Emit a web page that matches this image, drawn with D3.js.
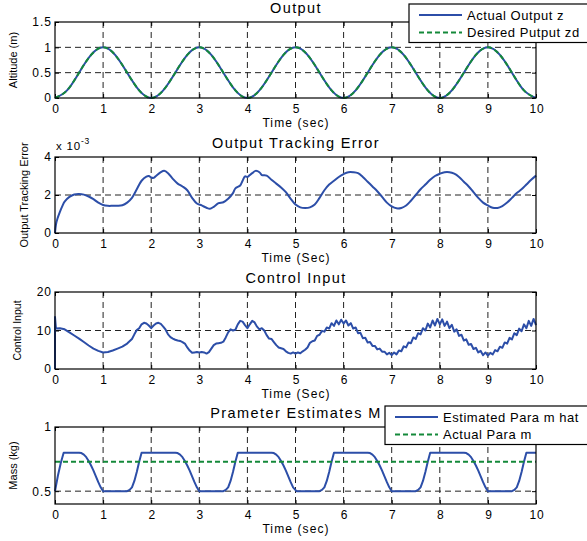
<!DOCTYPE html>
<html>
<head>
<meta charset="utf-8">
<title>Output</title>
<script src="https://d3js.org/d3.v7.min.js"></script>
<style>
  body { margin: 0; background: #fff; }
  svg text { font-family: "Liberation Sans", Arial, sans-serif; fill: #000; }
</style>
</head>
<body>
<div id="chart"></div>
<script>
// ---- data ----
const timeTicks = [0, 1, 2, 3, 4, 5, 6, 7, 8, 9, 10];

// altitude z and desired zd (m), sampled every 0.25 s
const outputTime = [0,0.25,0.5,0.75,1,1.25,1.5,1.75,2,2.25,2.5,2.75,3,3.25,3.5,3.75,4,4.25,4.5,4.75,5,
  5.25,5.5,5.75,6,6.25,6.5,6.75,7,7.25,7.5,7.75,8,8.25,8.5,8.75,9,9.25,9.5,9.75,10];
const actualZ = [0,0.15,0.5,0.85,1,0.85,0.5,0.15,0,0.15,0.5,0.85,1,0.85,0.5,0.15,0,0.15,0.5,0.85,1,
  0.85,0.5,0.15,0,0.15,0.5,0.85,1,0.85,0.5,0.15,0,0.15,0.5,0.85,1,0.85,0.5,0.15,0];
const desiredZd = [0,0.15,0.5,0.85,1,0.85,0.5,0.15,0,0.15,0.5,0.85,1,0.85,0.5,0.15,0,0.15,0.5,0.85,1,
  0.85,0.5,0.15,0,0.15,0.5,0.85,1,0.85,0.5,0.15,0,0.15,0.5,0.85,1,0.85,0.5,0.15,0];

// tracking error, in units of 1e-3
const trackingError = [[0,0],[0.02,0.45],[0.05,0.75],[0.1,1.1],[0.15,1.4],[0.2,1.65],[0.3,1.9],[0.4,2.03],
  [0.5,2.05],[0.6,2.02],[0.7,1.92],[0.8,1.78],[0.9,1.6],[1.0,1.47],[1.1,1.43],[1.2,1.43],[1.3,1.43],
  [1.4,1.46],[1.5,1.6],[1.6,1.85],[1.7,2.3],[1.8,2.75],[1.9,2.97],[1.95,3.0],[2.0,2.92],[2.05,2.9],
  [2.1,3.0],[2.2,3.2],[2.27,3.27],[2.35,3.15],[2.45,2.85],[2.55,2.6],[2.65,2.45],[2.75,2.25],[2.85,1.85],
  [2.95,1.55],[3.05,1.45],[3.15,1.33],[3.22,1.28],[3.3,1.38],[3.4,1.57],[3.5,1.62],[3.6,1.8],[3.7,2.1],
  [3.75,2.35],[3.85,2.5],[3.9,2.75],[3.95,2.98],[4.0,2.95],[4.05,3.05],[4.1,3.15],[4.17,3.27],[4.25,3.2],
  [4.3,3.05],[4.4,3.02],[4.5,2.8],[4.6,2.6],[4.7,2.4],[4.8,2.15],[4.9,1.8],[5.0,1.5],[5.1,1.35],[5.2,1.32],
  [5.3,1.35],[5.4,1.5],[5.5,1.85],[5.6,2.25],[5.7,2.55],[5.8,2.75],[5.9,2.95],[6.0,3.1],[6.1,3.2],[6.2,3.2],
  [6.3,3.15],[6.4,2.95],[6.5,2.7],[6.6,2.45],[6.7,2.2],[6.8,1.9],[6.9,1.6],[7.0,1.4],[7.1,1.3],[7.2,1.32],
  [7.3,1.45],[7.4,1.7],[7.5,2.0],[7.6,2.3],[7.7,2.55],[7.8,2.8],[7.9,3.0],[8.0,3.12],[8.1,3.2],[8.2,3.2],
  [8.3,3.12],[8.4,2.95],[8.5,2.7],[8.6,2.45],[8.7,2.15],[8.8,1.85],[8.9,1.6],[9.0,1.45],[9.1,1.33],
  [9.2,1.32],[9.3,1.42],[9.4,1.6],[9.5,1.85],[9.6,2.1],[9.7,2.3],[9.8,2.55],[9.9,2.8],[10.0,3.02]];

// control input u
const controlInput = [[0,0],[0,13.5],[0.02,10.5],[0.1,10.6],[0.2,10.3],[0.3,9.5],[0.4,8.7],[0.5,7.9],
  [0.6,7.0],[0.7,6.1],[0.8,5.3],[0.9,4.7],[1.0,4.3],[1.1,4.4],[1.2,4.8],[1.3,5.3],[1.4,5.8],[1.5,6.6],
  [1.6,7.8],[1.65,9.0],[1.7,10.1],[1.75,10.6],[1.8,11.6],[1.85,12.0],[1.9,11.8],[1.95,11.3],[2.0,10.6],
  [2.05,11.3],[2.1,11.8],[2.15,12.0],[2.2,11.7],[2.25,11.0],[2.3,10.2],[2.35,9.0],[2.4,8.3],[2.45,7.9],
  [2.5,7.6],[2.55,7.4],[2.6,7.3],[2.65,7.0],[2.7,6.6],[2.75,5.6],[2.8,4.8],[2.85,4.2],[2.9,4.3],[2.95,4.4],
  [3.0,4.3],[3.05,4.4],[3.1,4.3],[3.15,4.0],[3.2,4.4],[3.25,5.3],[3.3,6.2],[3.35,6.6],[3.4,6.7],[3.45,6.8],
  [3.5,7.1],[3.55,8.2],[3.6,9.5],[3.65,10.3],[3.7,10.0],[3.75,10.2],[3.8,11.6],[3.85,12.5],[3.9,12.3],
  [3.95,11.4],[4.0,10.6],[4.05,11.6],[4.1,12.5],[4.15,12.1],[4.2,11.0],[4.25,10.3],[4.3,10.6],[4.35,10.0],
  [4.4,8.8],[4.45,7.9],[4.5,7.8],[4.55,7.0],[4.6,6.2],[4.65,5.6],[4.7,5.4],[4.75,5.2],[4.8,4.6],[4.85,4.2],
  [4.9,4.0],[4.95,4.3],[5.0,4.0],[5.05,4.3],[5.1,4.1],[5.15,4.6],[5.2,5.0],[5.25,5.6],[5.3,6.8],[5.35,7.2],
  [5.4,7.4],[5.45,8.6],[5.5,8.9],[5.55,9.9],[5.6,9.7],[5.65,10.8],[5.7,10.5],[5.75,11.9],[5.8,11.2],
  [5.85,12.6],[5.9,11.6],[5.95,12.8],[6.0,11.8],[6.05,12.6],[6.1,11.3],[6.15,11.9],[6.2,10.5],[6.25,10.8],
  [6.3,9.3],[6.35,9.4],[6.4,8.0],[6.45,8.1],[6.5,6.9],[6.55,7.0],[6.6,6.0],[6.65,6.0],[6.7,5.1],[6.75,5.3],
  [6.8,4.5],[6.85,4.5],[6.9,3.8],[6.95,4.2],[7.0,3.6],[7.05,4.3],[7.1,3.8],[7.15,4.8],[7.2,4.6],[7.25,5.9],
  [7.3,5.6],[7.35,6.9],[7.4,6.7],[7.45,8.2],[7.5,7.8],[7.55,9.3],[7.6,9.0],[7.65,10.6],[7.7,10.0],
  [7.75,11.8],[7.8,10.8],[7.85,12.6],[7.9,11.3],[7.95,13.0],[8.0,11.6],[8.05,12.9],[8.1,11.2],[8.15,12.3],
  [8.2,10.6],[8.25,11.5],[8.3,9.7],[8.35,10.3],[8.4,8.6],[8.45,8.9],[8.5,7.4],[8.55,7.7],[8.6,6.3],
  [8.65,6.5],[8.7,5.2],[8.75,5.5],[8.8,4.3],[8.85,4.7],[8.9,3.6],[8.95,4.3],[9.0,3.5],[9.05,4.2],[9.1,3.8],
  [9.15,4.9],[9.2,4.6],[9.25,5.8],[9.3,5.5],[9.35,6.9],[9.4,6.6],[9.45,8.1],[9.5,7.7],[9.55,9.3],[9.6,8.8],
  [9.65,10.5],[9.7,9.8],[9.75,11.6],[9.8,10.6],[9.85,12.5],[9.9,11.2],[9.95,13.0],[10.0,11.4]];

// estimated mass m hat (kg)
const massEstimate = [[0,0.5],[0.06,0.62],[0.12,0.72],[0.18,0.8],
  [0.5,0.8],[0.55,0.797],[0.6,0.785],[0.65,0.765],[0.7,0.735],[0.75,0.7],[0.8,0.66],[0.85,0.615],[0.9,0.57],[0.95,0.53],[1.0,0.5],
  [1.5,0.5],[1.55,0.51],[1.6,0.53],[1.65,0.58],[1.7,0.65],[1.75,0.73],[1.8,0.8],
  [2.5,0.8],[2.55,0.797],[2.6,0.785],[2.65,0.765],[2.7,0.735],[2.75,0.7],[2.8,0.66],[2.85,0.615],[2.9,0.57],[2.95,0.53],[3.0,0.5],
  [3.5,0.5],[3.55,0.51],[3.6,0.53],[3.65,0.58],[3.7,0.65],[3.75,0.73],[3.8,0.8],
  [4.5,0.8],[4.55,0.797],[4.6,0.785],[4.65,0.765],[4.7,0.735],[4.75,0.7],[4.8,0.66],[4.85,0.615],[4.9,0.57],[4.95,0.53],[5.02,0.5],
  [5.5,0.5],[5.55,0.51],[5.6,0.53],[5.65,0.58],[5.7,0.65],[5.75,0.73],[5.8,0.8],
  [6.5,0.8],[6.55,0.797],[6.6,0.785],[6.65,0.765],[6.7,0.735],[6.75,0.7],[6.8,0.66],[6.85,0.615],[6.9,0.57],[6.95,0.53],[7.0,0.5],
  [7.5,0.5],[7.55,0.51],[7.6,0.53],[7.65,0.58],[7.7,0.65],[7.75,0.73],[7.8,0.8],
  [8.5,0.8],[8.55,0.797],[8.6,0.785],[8.65,0.765],[8.7,0.735],[8.75,0.7],[8.8,0.66],[8.85,0.615],[8.9,0.57],[8.95,0.53],[9.0,0.5],
  [9.5,0.5],[9.55,0.51],[9.6,0.53],[9.65,0.58],[9.7,0.65],[9.75,0.73],[9.8,0.8],[10.0,0.8]];
const actualMass = [[0,0.73],[10,0.73]];

const blue = "#2c4ea8", green = "#14893a";

const svg = d3.select("#chart").append("svg")
  .attr("width", 587).attr("height", 541);

const x = d3.scaleLinear().domain([0, 10]).range([55, 536]);

// horizontal text; the original runs wide, so add a little letter spacing
function htext(parent, px, py, str, size, anchor, ls) {
  return parent.append("text")
    .attr("x", px).attr("y", py)
    .attr("text-anchor", anchor || "start")
    .attr("font-size", size)
    .style("letter-spacing", (ls || 0) + "px")
    .text(str);
}

function panel(p) {
  const y = d3.scaleLinear().domain(p.domain).range([p.bottom, p.top]);
  const g = svg.append("g");

  // dashed grid
  g.selectAll(".vg").data(timeTicks.slice(1, -1)).enter().append("line")
    .attr("x1", d => x(d)).attr("x2", d => x(d))
    .attr("y1", p.top).attr("y2", p.bottom)
    .attr("stroke", "#222").attr("stroke-width", 1).attr("stroke-dasharray", "6,4");
  g.selectAll(".hg").data(p.grid).enter().append("line")
    .attr("x1", x(0)).attr("x2", x(10))
    .attr("y1", d => y(d)).attr("y2", d => y(d))
    .attr("stroke", "#222").attr("stroke-width", 1).attr("stroke-dasharray", "6,4");

  // axes with inward ticks on all four sides
  g.append("g").attr("transform", "translate(0," + p.bottom + ")")
    .call(d3.axisBottom(x).tickValues(timeTicks).tickSizeInner(-4).tickSizeOuter(0).tickPadding(6))
    .call(a => a.select(".domain").remove())
    .selectAll(".tick text").attr("dx", "0.05em");
  g.append("g").attr("transform", "translate(0," + p.top + ")")
    .call(d3.axisTop(x).tickValues(timeTicks).tickSizeInner(-4).tickSizeOuter(0).tickFormat(""))
    .call(a => a.select(".domain").remove());
  g.append("g").attr("transform", "translate(55,0)")
    .call(d3.axisLeft(y).tickValues(p.ticks).tickSizeInner(-4).tickSizeOuter(0).tickPadding(3).tickFormat(d3.format("")))
    .call(a => a.select(".domain").remove());
  g.append("g").attr("transform", "translate(536,0)")
    .call(d3.axisRight(y).tickValues(p.ticks).tickSizeInner(-4).tickSizeOuter(0).tickFormat(""))
    .call(a => a.select(".domain").remove());
  g.selectAll(".tick text").attr("font-size", 12)
    .style("letter-spacing", "1px")
    .style("font-family", "Liberation Sans, Arial, sans-serif");
  g.selectAll(".tick line").attr("stroke", "#000");

  // series
  p.series.forEach(s => {
    const line = d3.line().x(d => x(d[0])).y(d => y(d[1])).curve(s.curve || d3.curveLinear);
    g.append("path").datum(s.data)
      .attr("d", line).attr("fill", "none")
      .attr("stroke", s.color).attr("stroke-width", 2)
      .attr("stroke-dasharray", s.dash || null)
      .attr("stroke-linejoin", "round");
  });

  // frame
  g.append("rect").attr("x", 55).attr("y", p.top)
    .attr("width", 481).attr("height", p.bottom - p.top)
    .attr("fill", "none").attr("stroke", "#000").attr("stroke-width", 1.2);

  // texts
  htext(svg, 296, p.top - 9, p.title, 14.5, "middle", 1.4);
  htext(svg, 296, p.bottom + 29, p.xlabel, 12, "middle", 1.1);
  svg.append("text")
    .attr("transform", "translate(" + p.ylabelX + "," + ((p.top + p.bottom) / 2) + ") rotate(-90)")
    .attr("text-anchor", "middle").attr("font-size", p.ylabelSize || 11).text(p.ylabel);
  return y;
}

const zipT = (ts, vs) => ts.map((t, i) => [t, vs[i]]);

panel({
  top: 22, bottom: 98, domain: [0, 1.5], ticks: [0, 0.5, 1, 1.5], grid: [0.5, 1],
  title: "Output", xlabel: "Time (sec)", ylabel: "Altitude (m)", ylabelX: 17,
  series: [
    {data: zipT(outputTime, actualZ), color: blue, curve: d3.curveNatural},
    {data: zipT(outputTime, desiredZd), color: green, dash: "5,3", curve: d3.curveNatural}
  ]
});

panel({
  top: 157, bottom: 233, domain: [0, 4], ticks: [0, 2, 4], grid: [2],
  title: "Output Tracking Error", xlabel: "Time (Sec)", ylabel: "Output Tracking Error", ylabelX: 28,
  series: [{data: trackingError, color: blue, curve: d3.curveCatmullRom}]
});

panel({
  top: 292, bottom: 369, domain: [0, 20], ticks: [0, 10, 20], grid: [10],
  title: "Control Input", xlabel: "Time (Sec)", ylabel: "Control Input", ylabelX: 21, ylabelSize: 10.5,
  series: [{data: controlInput, color: blue}]
});

panel({
  top: 427, bottom: 504, domain: [0.4, 1], ticks: [0.5, 1], grid: [0.5],
  title: "Prameter Estimates M", xlabel: "Time (sec)", ylabel: "Mass (kg)", ylabelX: 17,
  series: [
    {data: massEstimate, color: blue},
    {data: actualMass, color: green, dash: "5,3"}
  ]
});

// exponent note for the error panel
const expo = htext(svg, 56, 150, "", 11.5, "start", 0.8);
expo.append("tspan").text("x 10");
expo.append("tspan").attr("dy", -6).attr("font-size", 8.5).text("-3");

// legends (box runs off the right edge of the picture)
function legend(lx, ly, items) {
  const g = svg.append("g");
  g.append("rect").attr("x", lx).attr("y", ly).attr("width", 240).attr("height", 38.5)
    .attr("fill", "#fff").attr("stroke", "#000").attr("stroke-width", 1.2);
  items.forEach((it, i) => {
    const yy = ly + 11 + i * 17.5;
    g.append("line").attr("x1", lx + 10).attr("x2", lx + 53).attr("y1", yy).attr("y2", yy)
      .attr("stroke", it.color).attr("stroke-width", 2).attr("stroke-dasharray", it.dash || null);
    htext(g, lx + 58, yy + 4.5, it.name, 13, "start", 0.55);
  });
}
legend(409, 4, [
  {name: "Actual Output z", color: blue},
  {name: "Desired Putput zd", color: green, dash: "5,3"}
]);
legend(385, 406, [
  {name: "Estimated Para m hat", color: blue},
  {name: "Actual Para m", color: green, dash: "5,3"}
]);
</script>
</body>
</html>
